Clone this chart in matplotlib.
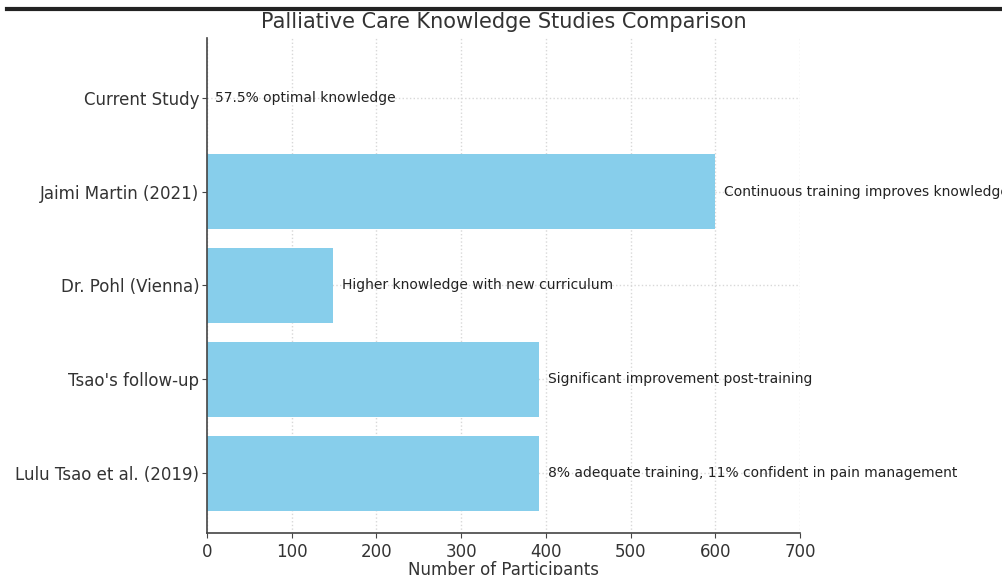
import matplotlib.pyplot as plt
import matplotlib.lines as mlines

# studies from bottom to top
studies = ["Lulu Tsao et al. (2019)", "Tsao's follow-up", "Dr. Pohl (Vienna)",
           "Jaimi Martin (2021)", "Current Study"]
participants = [392, 392, 149, 600, 0]
findings = ["8% adequate training, 11% confident in pain management",
            "Significant improvement post-training",
            "Higher knowledge with new curriculum",
            "Continuous training improves knowledge",
            "57.5% optimal knowledge"]

txt = '#333333'

fig = plt.figure(figsize=(10.03, 5.75), dpi=100)
ax = fig.add_axes([0.2064, 0.073, 0.5912, 0.861])

ax.barh(studies, participants, color='skyblue', height=0.8, zorder=2)
for i in range(len(studies)):
    ax.text(participants[i] + 10, i, findings[i], va='center', ha='left',
            fontsize=10, color='#222222', zorder=3)

ax.set_xlim(0, 700)
ax.set_xticks(range(0, 701, 100))
ax.grid(True, linestyle=':', color='#d8d8d8', linewidth=1, zorder=0)
ax.spines['top'].set_visible(False)
ax.spines['right'].set_visible(False)
for s in ['left', 'bottom']:
    ax.spines[s].set_color('#444444')
    ax.spines[s].set_linewidth(1.2)
ax.tick_params(axis='both', labelsize=12, colors='#444444', labelcolor=txt)
ax.tick_params(axis='y', pad=2)
ax.set_xlabel('Number of Participants', fontsize=12, color=txt, labelpad=0)
ax.set_title('Palliative Care Knowledge Studies Comparison', fontsize=15,
             color=txt, pad=7)

# dark border strip at the top of the image
fig.add_artist(mlines.Line2D([0.007, 1.0], [0.984, 0.984], color='#222222',
                             linewidth=3, transform=fig.transFigure))

fig.savefig('out.png', dpi=100)
